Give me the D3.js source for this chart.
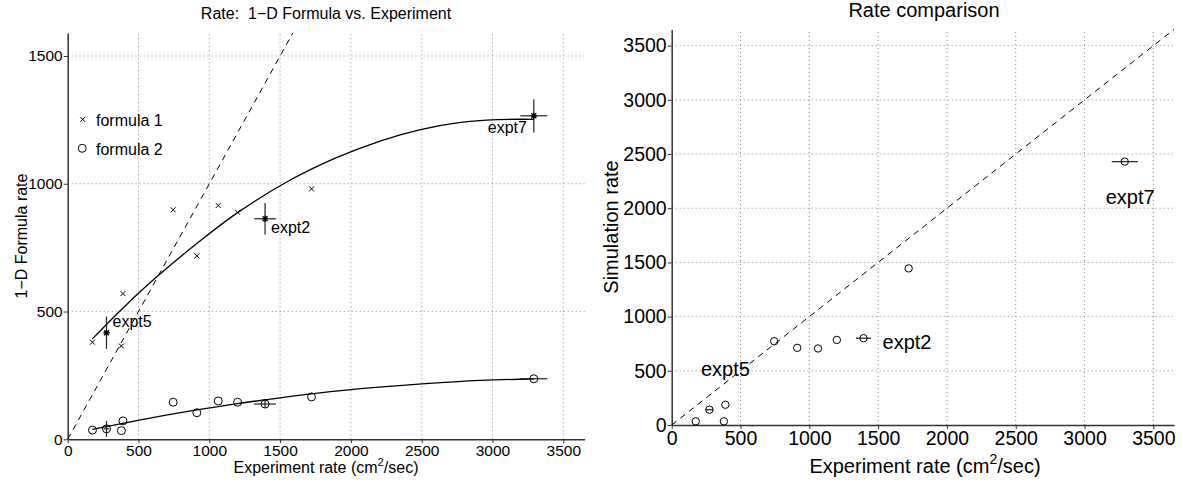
<!DOCTYPE html>
<html><head><meta charset="utf-8">
<script src="https://cdn.jsdelivr.net/npm/d3@7"></script>
<style>
body{margin:0;background:#fff}
svg{display:block}
text{font-family:"Liberation Sans",Arial,Helvetica,sans-serif;fill:#000;white-space:pre}
</style></head>
<body><svg id="c" width="1182" height="485"></svg>
<script>
// ---------- data ----------
const expRate   = [175, 274, 379, 390, 745, 912, 1063, 1200, 1394, 1722, 3292];
const formula1  = [380, 417, 365, 570, 898, 718, 915, 888, 863, 980, 1266];
const formula2  = [36, 41, 34, 72, 145, 104, 150, 145, 138, 166, 237];
const simRate   = [34, 141, 34, 187, 773, 712, 706, 785, 801, 1445, 2430];
const exptIdx   = [1, 8, 10];
const exptNames = ["expt5", "expt2", "expt7"];
const expRateErrLeft  = [20, 77, 95];
const expRateErrRight = [28, 55, 95];
const formula1Err = [63, 62, 65];
const formula2Err = [31, 15, 0];
const fit1X = [174, 400, 617, 934, 1200, 1547, 1898, 2222, 2492, 2763, 3033, 3292];
const fit1Y = [393, 519, 630, 776, 887, 1007, 1102, 1170, 1212, 1239, 1251, 1252];
const fit2X = [174, 600, 934, 1200, 1400, 1722, 2220, 2757, 3292];
const fit2Y = [39, 85, 117, 140, 155, 178, 205, 226, 237];
const xTicks = [0, 500, 1000, 1500, 2000, 2500, 3000, 3500];
const leftYTicks = [0, 500, 1000, 1500];
const rightYTicks = [0, 500, 1000, 1500, 2000, 2500, 3000, 3500];
const legendLabels = ["formula 1", "formula 2"];
const titles = ["Rate:  1\u2212D Formula vs. Experiment", "Rate comparison"];
const yLabels = ["1\u2212D Formula rate", "Simulation rate"];

// ---------- setup ----------
const svg = d3.select("#c");
const AX = "#333", GRID = "#8a8a8a";

function panel(g, x, y, yTicks, tickFont) {
  const [x0, x1] = x.range(), [y0, y1] = y.range();
  g.append("g").selectAll("line").data(xTicks.filter(d => d > 0)).join("line")
    .attr("x1", d => x(d)).attr("x2", d => x(d)).attr("y1", y0).attr("y2", y1)
    .attr("stroke", GRID).attr("stroke-width", 1).attr("stroke-dasharray", "1,3");
  g.append("g").selectAll("line").data(yTicks.filter(d => d > 0)).join("line")
    .attr("x1", x0).attr("x2", x1).attr("y1", d => y(d)).attr("y2", d => y(d))
    .attr("stroke", GRID).attr("stroke-width", 1).attr("stroke-dasharray", "1,3");
  const ax = g.append("g").attr("transform", `translate(0,${y0})`)
    .call(d3.axisBottom(x).tickValues(xTicks).tickFormat(d3.format("d")).tickSize(4).tickSizeOuter(0).tickPadding(2));
  const ay = g.append("g").attr("transform", `translate(${x0},0)`)
    .call(d3.axisLeft(y).tickValues(yTicks).tickFormat(d3.format("d")).tickSize(4).tickSizeOuter(0).tickPadding(1));
  [ax, ay].forEach(a => {
    a.selectAll("text").style("font-size", tickFont + "px").style("font-family", '"Liberation Sans",Arial,sans-serif').attr("fill", "#000");
    a.selectAll("line").attr("stroke", AX);
    a.select(".domain").attr("stroke", AX).attr("stroke-width", 1.5);
  });
}

function xMark(g, cx, cy, s) {
  g.append("path").attr("d", `M${cx-s},${cy-s}L${cx+s},${cy+s}M${cx-s},${cy+s}L${cx+s},${cy-s}`)
    .attr("stroke", "#000").attr("stroke-width", 1).attr("fill", "none");
}
function starMark(g, cx, cy, s) {
  g.append("path").attr("d", `M${cx-s},${cy-s}L${cx+s},${cy+s}M${cx-s},${cy+s}L${cx+s},${cy-s}M${cx-s*1.3},${cy}L${cx+s*1.3},${cy}M${cx},${cy-s*1.3}L${cx},${cy+s*1.3}`)
    .attr("stroke", "#000").attr("stroke-width", 1.2).attr("fill", "none");
}
function circ(g, cx, cy, r) {
  g.append("circle").attr("cx", cx).attr("cy", cy).attr("r", r)
    .attr("fill", "none").attr("stroke", "#000").attr("stroke-width", 1);
}
function hbar(g, x, cx, cy, v, e) {
  if (!e) return;
  g.append("line").attr("x1", x(v - e)).attr("x2", x(v + e)).attr("y1", cy).attr("y2", cy)
    .attr("stroke", "#222").attr("stroke-width", 1.2);
}
function vbar(g, y, cx, v, e) {
  if (!e) return;
  g.append("line").attr("x1", cx).attr("x2", cx).attr("y1", y(v - e)).attr("y2", y(v + e))
    .attr("stroke", "#222").attr("stroke-width", 1.2);
}

// ---------- left panel ----------
const xL = d3.scaleLinear([0, 3650], [67.7, 584.5]);
const yL = d3.scaleLinear([0, 1590], [439.3, 33]);
const gL = svg.append("g");
panel(gL, xL, yL, leftYTicks, 15.5);

gL.append("line").attr("x1", xL(0)).attr("y1", yL(0)).attr("x2", xL(1590)).attr("y2", yL(1590))
  .attr("stroke", "#000").attr("stroke-width", 1).attr("stroke-dasharray", "6,5");

const line = (xs, ys, x, y) => d3.line().x(i => x(xs[i])).y(i => y(ys[i])).curve(d3.curveCatmullRom)(d3.range(xs.length));
gL.append("path").attr("d", line(fit1X, fit1Y, xL, yL)).attr("fill", "none").attr("stroke", "#000").attr("stroke-width", 1.3);
gL.append("path").attr("d", line(fit2X, fit2Y, xL, yL)).attr("fill", "none").attr("stroke", "#000").attr("stroke-width", 1.3);

expRate.forEach((v, i) => {
  const k = exptIdx.indexOf(i);
  const cx = xL(v), cy1 = yL(formula1[i]), cy2 = yL(formula2[i]);
  if (k >= 0) {
    hbar(gL, xL, cx, cy1, v, expRateErrLeft[k]);
    vbar(gL, yL, cx, formula1[i], formula1Err[k]);
    starMark(gL, cx, cy1, 2.5);
    hbar(gL, xL, cx, cy2, v, expRateErrLeft[k]);
    vbar(gL, yL, cx, formula2[i], formula2Err[k]);
  } else {
    xMark(gL, cx, cy1, 2.5);
  }
  circ(gL, cx, cy2, 4);
});

const lblOffL = [[6, -6], [6, 14.5], [-46, 17.5]];
exptIdx.forEach((i, k) => {
  gL.append("text").attr("x", xL(expRate[i]) + lblOffL[k][0]).attr("y", yL(formula1[i]) + lblOffL[k][1])
    .style("font-size", "16px").text(exptNames[k]);
});

// legend
xMark(gL, 82.7, 119.3, 2.5);
circ(gL, 82.2, 148.3, 4);
gL.append("text").attr("x", 96).attr("y", 125.5).style("font-size", "16px").text(legendLabels[0]);
gL.append("text").attr("x", 96).attr("y", 154.5).style("font-size", "16px").text(legendLabels[1]);

// titles & labels
gL.append("text").attr("x", 326).attr("y", 19).attr("text-anchor", "middle").attr("xml:space", "preserve").style("font-size", "16px").text(titles[0]);
gL.append("text").attr("transform", "translate(26.5,236) rotate(-90)").attr("text-anchor", "middle").style("font-size", "16px").text(yLabels[0]);
function xlabel(g, cx, y, fs) {
  const t = g.append("text").attr("x", cx).attr("y", y).attr("text-anchor", "middle").style("font-size", fs + "px");
  t.append("tspan").text("Experiment rate (cm");
  t.append("tspan").attr("dy", -fs * 0.45).style("font-size", (fs * 0.7) + "px").text("2");
  t.append("tspan").attr("dy", fs * 0.45).text("/sec)");
}
xlabel(gL, 326, 473, 16);

// ---------- right panel ----------
const xR = d3.scaleLinear([0, 3650], [671.7, 1174]);
const yR = d3.scaleLinear([0, 3650], [425, 29.4]);
const gR = svg.append("g");
panel(gR, xR, yR, rightYTicks, 19.5);

gR.append("line").attr("x1", xR(0)).attr("y1", yR(0)).attr("x2", xR(3650)).attr("y2", yR(3650))
  .attr("stroke", "#000").attr("stroke-width", 1).attr("stroke-dasharray", "6,5");

expRate.forEach((v, i) => {
  const k = exptIdx.indexOf(i);
  const cx = xR(v), cy = yR(simRate[i]);
  if (k >= 0) hbar(gR, xR, cx, cy, v, expRateErrRight[k]);
  circ(gR, cx, cy, 3.7);
});

const lblOffR = [[-8.5, -33.7], [19, 11.3], [-19, 42.8]];
exptIdx.forEach((i, k) => {
  gR.append("text").attr("x", xR(expRate[i]) + lblOffR[k][0]).attr("y", yR(simRate[i]) + lblOffR[k][1])
    .style("font-size", "20px").text(exptNames[k]);
});

gR.append("text").attr("x", 924).attr("y", 17).attr("text-anchor", "middle").style("font-size", "20px").text(titles[1]);
gR.append("text").attr("transform", "translate(618,227) rotate(-90)").attr("text-anchor", "middle").style("font-size", "20px").text(yLabels[1]);
xlabel(gR, 925, 473, 20);
</script>
</body></html>
